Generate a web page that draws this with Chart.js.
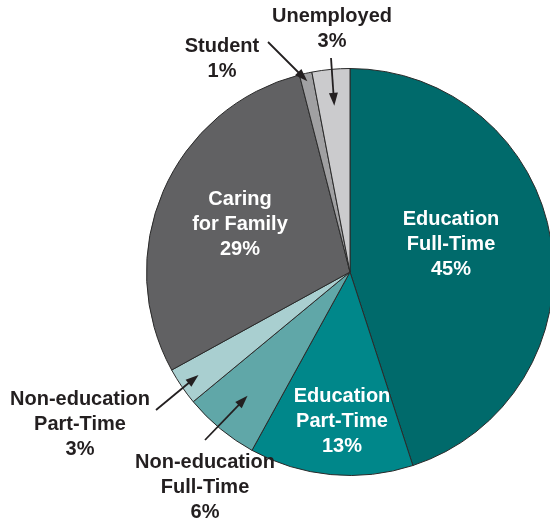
<!DOCTYPE html>
<html>
<head>
<meta charset="utf-8">
<script src="https://cdn.jsdelivr.net/npm/chart.js@4"></script>
<style>
  html, body { margin: 0; padding: 0; background: #fff; overflow: hidden; }
  #wrap { position: relative; width: 560px; height: 522px; }
</style>
</head>
<body>
<div id="wrap"><canvas id="statusChart"></canvas></div>
<script>
const categories = [
  'Education Full-Time',
  'Education Part-Time',
  'Non-education Full-Time',
  'Non-education Part-Time',
  'Caring for Family',
  'Student',
  'Unemployed'
];
const shares = [45, 13, 6, 3, 29, 1, 3];
const sliceColors = ['#006a6b', '#00878a', '#60a7a8', '#a9cfd0', '#616163', '#a0a0a2', '#cbcbcd'];

// text lines per slice (the last line is the percentage)
const labelLines = [
  ['Education', 'Full-Time'],
  ['Education', 'Part-Time'],
  ['Non-education', 'Full-Time'],
  ['Non-education', 'Part-Time'],
  ['Caring', 'for Family'],
  ['Student'],
  ['Unemployed']
];

// where each label sits; inside ones are white, callouts get an arrow
const labelSpots = [
  { x: 451, y: 225, inside: true },
  { x: 342, y: 402, inside: true },
  { x: 205, y: 468, tail: [205, 440], tipR: 0.79 },
  { x: 80,  y: 405, tail: [156, 410], tipR: 0.90 },
  { x: 240, y: 205, inside: true },
  { x: 222, y: 52,  tail: [268, 42],  tipR: 0.96 },
  { x: 332, y: 22,  tail: [331, 58],  tipR: 0.82 }
];

function drawArrow(ctx, x0, y0, x1, y1) {
  const a = Math.atan2(y1 - y0, x1 - x0);
  const len = 13, half = 4.5;
  ctx.save();
  ctx.strokeStyle = '#231f20';
  ctx.fillStyle = '#231f20';
  ctx.lineWidth = 1.8;
  ctx.beginPath();
  ctx.moveTo(x0, y0);
  ctx.lineTo(x1 - Math.cos(a) * len * 0.8, y1 - Math.sin(a) * len * 0.8);
  ctx.stroke();
  ctx.beginPath();
  ctx.moveTo(x1, y1);
  ctx.lineTo(x1 - Math.cos(a) * len - Math.sin(a) * half, y1 - Math.sin(a) * len + Math.cos(a) * half);
  ctx.lineTo(x1 - Math.cos(a) * len + Math.sin(a) * half, y1 - Math.sin(a) * len - Math.cos(a) * half);
  ctx.closePath();
  ctx.fill();
  ctx.restore();
}

const sliceLabels = {
  id: 'sliceLabels',
  afterDraw(chart) {
    const ctx = chart.ctx;
    const arcs = chart.getDatasetMeta(0).data;
    ctx.save();
    ctx.font = 'bold 20px "Liberation Sans", Arial, sans-serif';
    ctx.textAlign = 'center';
    ctx.textBaseline = 'alphabetic';
    arcs.forEach((arc, i) => {
      const spot = labelSpots[i];
      const lines = labelLines[i].concat(shares[i] + '%');
      ctx.fillStyle = spot.inside ? '#ffffff' : '#231f20';
      lines.forEach((t, k) => ctx.fillText(t, spot.x, spot.y + k * 25));
      if (!spot.inside) {
        const p = arc.getProps(['x', 'y', 'startAngle', 'endAngle', 'outerRadius'], true);
        const mid = (p.startAngle + p.endAngle) / 2;
        const r = p.outerRadius * spot.tipR;
        drawArrow(ctx, spot.tail[0], spot.tail[1], p.x + Math.cos(mid) * r, p.y + Math.sin(mid) * r);
      }
    });
    ctx.restore();
  }
};

new Chart(document.getElementById('statusChart'), {
  type: 'pie',
  data: {
    labels: categories,
    datasets: [{
      data: shares,
      backgroundColor: sliceColors,
      borderColor: '#2a2a2a',
      borderWidth: 1,
      hoverOffset: 0
    }]
  },
  options: {
    responsive: true,
    maintainAspectRatio: false,
    animation: false,
    layout: { padding: { left: 146, right: 6, top: 68, bottom: 46 } },
    plugins: {
      legend: { display: false },
      tooltip: { enabled: false }
    }
  },
  plugins: [sliceLabels]
});
</script>
</body>
</html>
